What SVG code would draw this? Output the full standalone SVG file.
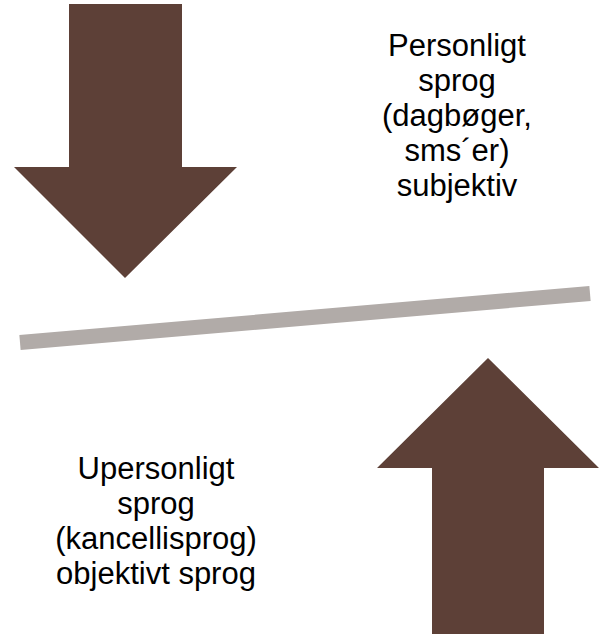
<svg xmlns="http://www.w3.org/2000/svg" width="600" height="634" viewBox="0 0 600 634">
  <style>
    .arrow { fill: #5d4037; }
    .bar { stroke: #b1aba8; stroke-width: 15; fill: none; stroke-linecap: butt; }
    .lbl { font-family: "Liberation Sans", Arial, sans-serif; font-size: 31px; fill: #000; text-anchor: middle; }
  </style>
  <rect width="600" height="634" fill="#ffffff"/>
  <g id="connectors">
    <line class="bar" x1="20" y1="342.5" x2="590" y2="293.5"/>
  </g>
  <g id="arrow-down">
    <polygon class="arrow" points="69,4 182,4 182,167 237,167 125,278 14,167 69,167"/>
  </g>
  <g id="arrow-up">
    <polygon class="arrow" points="488,358 599,468 544,468 544,634 432,634 432,468 377,468"/>
  </g>
  <g id="label-personligt">
    <text class="lbl" x="457" y="56">Personligt</text>
    <text class="lbl" x="457" y="91">sprog</text>
    <text class="lbl" x="457" y="126">(dagbøger,</text>
    <text class="lbl" x="457" y="161">sms´er)</text>
    <text class="lbl" x="457" y="196">subjektiv</text>
  </g>
  <g id="label-upersonligt">
    <text class="lbl" x="156" y="479">Upersonligt</text>
    <text class="lbl" x="156" y="514">sprog</text>
    <text class="lbl" x="156" y="549">(kancellisprog)</text>
    <text class="lbl" x="156" y="584">objektivt sprog</text>
  </g>
</svg>
